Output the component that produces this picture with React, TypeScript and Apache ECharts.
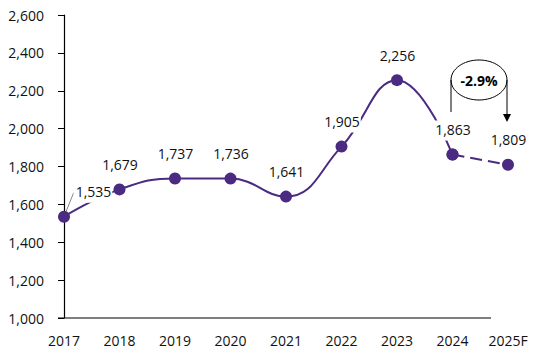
import React, { useEffect, useRef } from "react";
import * as echarts from "echarts";

const categories = ["2017", "2018", "2019", "2020", "2021", "2022", "2023", "2024", "2025F"];
const actualValues: (number | null)[] = [1535, 1679, 1737, 1736, 1641, 1905, 2256, 1863, null];
const forecastValues: (number | null)[] = [null, null, null, null, null, null, null, 1863, 1809];
const labelValues = [1535, 1679, 1737, 1736, 1641, 1905, 2256, 1863, 1809];
const yTicks = { min: 1000, max: 2600, interval: 200 };
const changeText = "-2.9%";

const PURPLE = "#4B2A82";
const FONT = "'Open Sans', 'Noto Sans', sans-serif";

export default function App() {
  const ref = useRef<HTMLDivElement>(null);
  useEffect(() => {
    if (!ref.current) return;
    const chart = echarts.init(ref.current, undefined, { renderer: "svg" });
    const fmt = (v: number) => v.toLocaleString("en-US");
    chart.setOption({
      animation: false,
      backgroundColor: "#fff",
      grid: { left: 64, right: 31, top: 15, bottom: 41 },
      xAxis: {
        type: "category",
        data: categories,
        boundaryGap: false,
        axisLine: { show: false },
        axisTick: { show: false },
        axisLabel: { color: "#111", fontSize: 14, fontFamily: FONT, margin: 15 },
      },
      yAxis: {
        type: "value",
        min: yTicks.min,
        max: yTicks.max,
        interval: yTicks.interval,
        splitLine: { show: false },
        axisLine: { show: true, lineStyle: { color: "#000", width: 1.2 } },
        axisTick: { show: true, length: 6, lineStyle: { color: "#000" } },
        axisLabel: {
          color: "#111",
          fontSize: 14,
          fontFamily: FONT,
          margin: 20,
          formatter: (v: number) => fmt(v),
        },
      },
      graphic: [
        {
          type: "line",
          shape: { x1: 58, y1: 318, x2: 491, y2: 318 },
          style: { stroke: "#000", lineWidth: 1.2 },
          z: 1,
        },
        {
          type: "ellipse",
          shape: { cx: 479, cy: 80, rx: 28, ry: 20 },
          style: { fill: "#fff", stroke: "#000", lineWidth: 1 },
          z: 10,
        },
        {
          type: "text",
          x: 479,
          y: 80,
          style: {
            text: changeText,
            fontSize: 14,
            fontWeight: "bold",
            fontFamily: FONT,
            fill: "#000",
            align: "center",
            verticalAlign: "middle",
          },
          z: 11,
        },
        {
          type: "line",
          shape: { x1: 451, y1: 80, x2: 451, y2: 112 },
          style: { stroke: "#000", lineWidth: 1 },
          z: 10,
        },
        {
          type: "line",
          shape: { x1: 507, y1: 80, x2: 507, y2: 115 },
          style: { stroke: "#000", lineWidth: 1 },
          z: 10,
        },
        {
          type: "polygon",
          shape: { points: [[503, 114], [511, 114], [507, 122]] },
          style: { fill: "#000" },
          z: 10,
        },
      ],
      series: [
        {
          type: "line",
          data: actualValues,
          smooth: 0.45,
          symbol: "circle",
          symbolSize: 12,
          lineStyle: { color: PURPLE, width: 2 },
          itemStyle: { color: PURPLE },
          label: { show: false },
          z: 2,
        },
        {
          type: "line",
          data: forecastValues,
          smooth: false,
          symbol: "circle",
          symbolSize: 12,
          lineStyle: { color: PURPLE, width: 2, type: [12, 6] },
          itemStyle: { color: PURPLE },
          label: { show: false },
          z: 2,
        },
        {
          type: "line",
          data: labelValues.map((v, i) =>
            i === 0 ? { value: v, labelLine: { show: true } } : { value: v }
          ),
          symbol: "circle",
          symbolSize: 12,
          itemStyle: { color: "rgba(0,0,0,0)" },
          lineStyle: { opacity: 0 },
          silent: true,
          z: 5,
          labelLine: { show: false, lineStyle: { color: "#888", width: 1 } },
          labelLayout: (p: any) => (p.dataIndex === 0 ? { dx: 29, dy: 0 } : {}),
          label: {
            show: true,
            position: "top",
            distance: 8,
            color: "#111",
            fontSize: 14,
            fontFamily: FONT,
            backgroundColor: "#fff",
            padding: [2, 1, 4, 2],
            formatter: (p: any) => fmt(p.value),
          },
        },
      ],
    });
    return () => chart.dispose();
  }, []);
  return (
    <div
      ref={ref}
      style={{ position: "fixed", left: 0, top: 0, width: 539, height: 359 }}
    />
  );
}
